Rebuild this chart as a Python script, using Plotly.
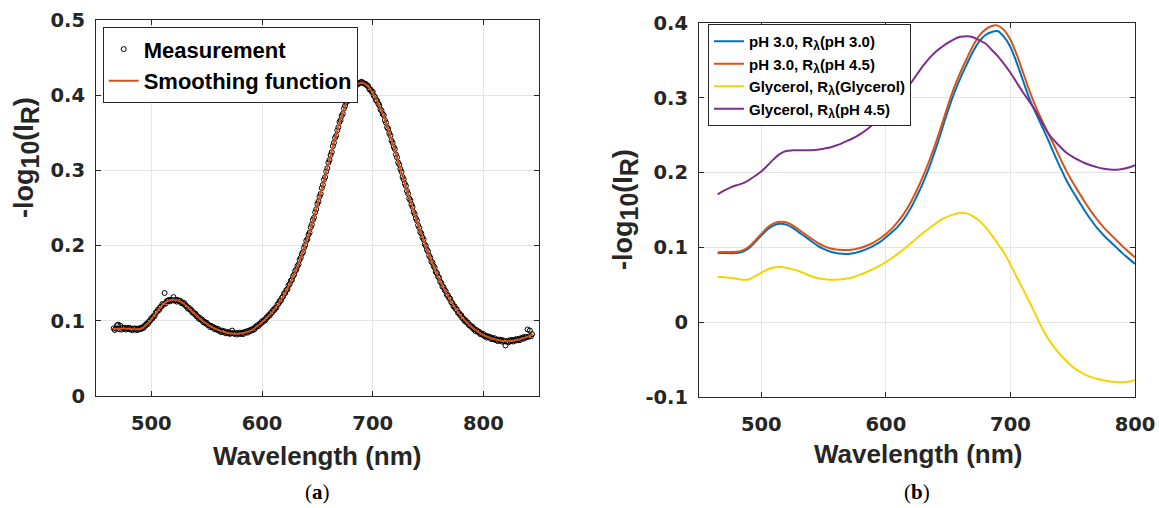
import plotly.graph_objects as go

# ---------------- data: panel (a) ----------------
meas_wl = list(range(466, 845))
meas_val = [
    0.0899, 0.0878, 0.0898, 0.0940, 0.0948, 0.0888, 0.0935, 0.0882, 0.0906, 0.0896,
    0.0907, 0.0884, 0.0901, 0.0890, 0.0907, 0.0884, 0.0894, 0.0875, 0.0898, 0.0886,
    0.0898, 0.0876, 0.0895, 0.0885, 0.0904, 0.0892, 0.0913, 0.0905, 0.0939, 0.0938,
    0.0966, 0.0960, 0.0994, 0.1000, 0.1034, 0.1032, 0.1063, 0.1065, 0.1109, 0.1118,
    0.1148, 0.1144, 0.1180, 0.1188, 0.1224, 0.1213, 0.1370, 0.1228, 0.1263, 0.1263,
    0.1278, 0.1259, 0.1280, 0.1273, 0.1315, 0.1269, 0.1277, 0.1256, 0.1277, 0.1263,
    0.1266, 0.1235, 0.1244, 0.1225, 0.1234, 0.1198, 0.1195, 0.1163, 0.1173, 0.1148,
    0.1146, 0.1110, 0.1114, 0.1090, 0.1094, 0.1059, 0.1057, 0.1026, 0.1037, 0.1013,
    0.1014, 0.0981, 0.0988, 0.0967, 0.0974, 0.0943, 0.0945, 0.0918, 0.0933, 0.0913,
    0.0918, 0.0889, 0.0900, 0.0883, 0.0894, 0.0867, 0.0873, 0.0850, 0.0869, 0.0853,
    0.0861, 0.0835, 0.0849, 0.0835, 0.0849, 0.0826, 0.0835, 0.0870, 0.0838, 0.0826,
    0.0838, 0.0817, 0.0835, 0.0826, 0.0844, 0.0825, 0.0839, 0.0824, 0.0851, 0.0843,
    0.0860, 0.0843, 0.0866, 0.0861, 0.0884, 0.0872, 0.0893, 0.0885, 0.0919, 0.0918,
    0.0942, 0.0932, 0.0962, 0.0964, 0.0994, 0.0986, 0.1011, 0.1007, 0.1045, 0.1048,
    0.1076, 0.1070, 0.1104, 0.1110, 0.1144, 0.1142, 0.1173, 0.1175, 0.1219, 0.1228,
    0.1264, 0.1266, 0.1308, 0.1322, 0.1364, 0.1370, 0.1409, 0.1419, 0.1471, 0.1488,
    0.1532, 0.1542, 0.1592, 0.1614, 0.1664, 0.1680, 0.1729, 0.1749, 0.1811, 0.1838,
    0.1892, 0.1912, 0.1972, 0.2004, 0.2064, 0.2088, 0.2145, 0.2173, 0.2243, 0.2278,
    0.2342, 0.2372, 0.2442, 0.2484, 0.2554, 0.2586, 0.2651, 0.2687, 0.2765, 0.2808,
    0.2876, 0.2910, 0.2984, 0.3030, 0.3104, 0.3138, 0.3205, 0.3243, 0.3323, 0.3368,
    0.3432, 0.3462, 0.3532, 0.3574, 0.3644, 0.3668, 0.3725, 0.3753, 0.3823, 0.3858,
    0.3904, 0.3916, 0.3968, 0.3992, 0.4044, 0.4042, 0.4073, 0.4075, 0.4119, 0.4128,
    0.4147, 0.4152, 0.4160, 0.4170, 0.4179, 0.4166, 0.4160, 0.4150, 0.4146, 0.4128,
    0.4120, 0.4078, 0.4076, 0.4046, 0.4044, 0.3994, 0.3977, 0.3931, 0.3927, 0.3888,
    0.3866, 0.3810, 0.3794, 0.3750, 0.3734, 0.3668, 0.3635, 0.3573, 0.3553, 0.3498,
    0.3464, 0.3396, 0.3368, 0.3312, 0.3284, 0.3212, 0.3173, 0.3105, 0.3079, 0.3018,
    0.2982, 0.2912, 0.2882, 0.2824, 0.2794, 0.2726, 0.2691, 0.2627, 0.2605, 0.2548,
    0.2514, 0.2446, 0.2418, 0.2362, 0.2334, 0.2270, 0.2239, 0.2179, 0.2161, 0.2108,
    0.2080, 0.2018, 0.1996, 0.1946, 0.1924, 0.1866, 0.1841, 0.1787, 0.1775, 0.1728,
    0.1706, 0.1650, 0.1634, 0.1590, 0.1574, 0.1522, 0.1503, 0.1455, 0.1449, 0.1408,
    0.1394, 0.1346, 0.1338, 0.1302, 0.1294, 0.1248, 0.1235, 0.1193, 0.1193, 0.1158,
    0.1150, 0.1108, 0.1106, 0.1076, 0.1074, 0.1036, 0.1031, 0.0997, 0.1005, 0.0978,
    0.0976, 0.0940, 0.0944, 0.0920, 0.0924, 0.0891, 0.0891, 0.0862, 0.0875, 0.0853,
    0.0856, 0.0825, 0.0834, 0.0815, 0.0824, 0.0796, 0.0801, 0.0777, 0.0795, 0.0778,
    0.0785, 0.0758, 0.0771, 0.0756, 0.0769, 0.0744, 0.0751, 0.0730, 0.0750, 0.0736,
    0.0746, 0.0723, 0.0739, 0.0728, 0.0672, 0.0722, 0.0734, 0.0716, 0.0741, 0.0730,
    0.0745, 0.0725, 0.0746, 0.0738, 0.0759, 0.0741, 0.0756, 0.0742, 0.0770, 0.0763,
    0.0780, 0.0763, 0.0786, 0.0781, 0.0885, 0.0788, 0.0870, 0.0793, 0.0823,
]

smooth_wl = list(range(465, 850, 5))
smooth_val = [
    0.0887, 0.0895, 0.0898, 0.0893, 0.0888, 0.0890, 0.0940, 0.1020, 0.1120, 0.1210,
    0.1265, 0.1280, 0.1265, 0.1220, 0.1150, 0.1080, 0.1015, 0.0960, 0.0915, 0.0880,
    0.0855, 0.0835, 0.0828, 0.0830, 0.0845, 0.0870, 0.0920, 0.0980, 0.1050, 0.1130,
    0.1230, 0.1350, 0.1490, 0.1650, 0.1840, 0.2050, 0.2280, 0.2540, 0.2810, 0.3090,
    0.3370, 0.3630, 0.3860, 0.4030, 0.4130, 0.4165, 0.4130, 0.4030, 0.3890, 0.3720,
    0.3500, 0.3270, 0.3020, 0.2780, 0.2550, 0.2320, 0.2110, 0.1910, 0.1730, 0.1560,
    0.1410, 0.1280, 0.1160, 0.1060, 0.0980, 0.0910, 0.0855, 0.0810, 0.0780, 0.0755,
    0.0738, 0.0730, 0.0732, 0.0745, 0.0765, 0.0790, 0.0820,
]

# ---------------- data: panel (b) ----------------
wl_b = list(range(465, 805, 5))
ph30_r30 = [
    0.0924, 0.0924, 0.0923, 0.0925, 0.0940, 0.0990, 0.1070, 0.1160, 0.1240, 0.1295,
    0.1315, 0.1305, 0.1265, 0.1205, 0.1145, 0.1085, 0.1025, 0.0980, 0.0945, 0.0925,
    0.0915, 0.0913, 0.0925, 0.0948, 0.0980, 0.1020, 0.1070, 0.1135, 0.1205, 0.1285,
    0.1390, 0.1525, 0.1690, 0.1870, 0.2080, 0.2315, 0.2575, 0.2835, 0.3070, 0.3270,
    0.3450, 0.3620, 0.3755, 0.3840, 0.3880, 0.3890, 0.3810, 0.3680, 0.3470, 0.3235,
    0.3000, 0.2810, 0.2630, 0.2447, 0.2255, 0.2070, 0.1895, 0.1750, 0.1615, 0.1480,
    0.1360, 0.1250, 0.1160, 0.1080, 0.1000, 0.0920, 0.0850, 0.0780,
]
ph30_r45 = [
    0.0935, 0.0938, 0.0940, 0.0942, 0.0958, 0.1008, 0.1090, 0.1180, 0.1265, 0.1320,
    0.1342, 0.1335, 0.1295, 0.1240, 0.1180, 0.1120, 0.1065, 0.1020, 0.0988, 0.0972,
    0.0965, 0.0965, 0.0975, 0.0995, 0.1025, 0.1065, 0.1115, 0.1180, 0.1255, 0.1350,
    0.1465, 0.1605, 0.1770, 0.1955, 0.2165, 0.2395, 0.2645, 0.2905, 0.3145, 0.3345,
    0.3525, 0.3695, 0.3830, 0.3915, 0.3960, 0.3965, 0.3905, 0.3775, 0.3580, 0.3345,
    0.3105, 0.2895, 0.2710, 0.2535, 0.2365, 0.2190, 0.2020, 0.1870, 0.1735, 0.1600,
    0.1475, 0.1365, 0.1265, 0.1180, 0.1100, 0.1015, 0.0940, 0.0866,
]
gly_rgly = [
    0.0604, 0.0602, 0.0595, 0.0580, 0.0568, 0.0570, 0.0615, 0.0660, 0.0705, 0.0732,
    0.0738, 0.0728, 0.0708, 0.0685, 0.0650, 0.0615, 0.0590, 0.0577, 0.0569, 0.0568,
    0.0575, 0.0588, 0.0608, 0.0640, 0.0675, 0.0712, 0.0755, 0.0804, 0.0858, 0.0920,
    0.0985, 0.1055, 0.1125, 0.1195, 0.1260, 0.1320, 0.1375, 0.1415, 0.1445, 0.1460,
    0.1455, 0.1415, 0.1355, 0.1270, 0.1165, 0.1045, 0.0925, 0.0770, 0.0605, 0.0445,
    0.0280, 0.0110, -0.0065, -0.0215, -0.0330, -0.0435, -0.0520, -0.0597, -0.0655, -0.0700,
    -0.0735, -0.0760, -0.0778, -0.0792, -0.0800, -0.0802, -0.0795, -0.0775,
]
gly_r45 = [
    0.1710, 0.1760, 0.1800, 0.1830, 0.1855, 0.1900, 0.1955, 0.2015, 0.2095, 0.2180,
    0.2250, 0.2288, 0.2298, 0.2300, 0.2298, 0.2298, 0.2305, 0.2320, 0.2335, 0.2362,
    0.2395, 0.2432, 0.2470, 0.2520, 0.2580, 0.2650, 0.2730, 0.2815, 0.2905, 0.2995,
    0.3090, 0.3195, 0.3315, 0.3430, 0.3530, 0.3615, 0.3680, 0.3738, 0.3785, 0.3815,
    0.3823, 0.3810, 0.3770, 0.3725, 0.3640, 0.3555, 0.3450, 0.3335, 0.3205, 0.3075,
    0.2955, 0.2830, 0.2680, 0.2536, 0.2430, 0.2345, 0.2265, 0.2210, 0.2165, 0.2125,
    0.2095, 0.2070, 0.2052, 0.2040, 0.2038, 0.2048, 0.2068, 0.2100,
]

LAM = "R<sub><span style='font-size:12px'>λ</span></sub>"
series_b = [
    ("pH 3.0, " + LAM + "(pH 3.0)", ph30_r30, "#0072BD"),
    ("pH 3.0, " + LAM + "(pH 4.5)", ph30_r45, "#D95319"),
    ("Glycerol, " + LAM + "(Glycerol)", gly_rgly, "#F7D300"),
    ("Glycerol, " + LAM + "(pH 4.5)", gly_r45, "#7E2F8E"),
]

x_ticks = [500, 600, 700, 800]
ya_ticks = [0, 0.1, 0.2, 0.3, 0.4, 0.5]
ya_text = ["0", "0.1", "0.2", "0.3", "0.4", "0.5"]
yb_ticks = [-0.1, 0, 0.1, 0.2, 0.3, 0.4]
yb_text = ["-0.1", "0", "0.1", "0.2", "0.3", "0.4"]

W, H = 1159, 508
FONT = "Liberation Sans"
TICKFONT = "DejaVu Sans"
INK = "#262626"

fig = go.Figure()

fig.add_trace(go.Scatter(
    x=meas_wl, y=meas_val, mode="markers", name="Measurement",
    marker=dict(symbol="circle-open", size=5, color="black", line=dict(width=1, color="black")),
    xaxis="x", yaxis="y", legend="legend",
))
fig.add_trace(go.Scatter(
    x=smooth_wl, y=smooth_val, mode="lines", name="Smoothing function",
    line=dict(color="#D95319", width=2, shape="spline"),
    xaxis="x", yaxis="y", legend="legend",
))

for name, vals, col in series_b:
    fig.add_trace(go.Scatter(
        x=wl_b, y=vals, mode="lines", name=name,
        line=dict(color=col, width=2, shape="spline"),
        xaxis="x2", yaxis="y2", legend="legend2",
    ))

def px(x):
    return x / W

def py(y):
    return 1 - y / H

axis_common = dict(
    showline=True, linecolor=INK, linewidth=1, mirror="ticks",
    ticks="inside", ticklen=5, tickcolor=INK, tickwidth=1,
    showgrid=True, gridcolor="#e4e4e4", gridwidth=1, zeroline=False,
    automargin=False,
    tickfont=dict(family=TICKFONT, size=19.5, color=INK, weight="bold"),
)

fig.update_layout(
    width=W, height=H, autosize=False,
    margin=dict(l=0, r=0, t=0, b=0, autoexpand=False),
    paper_bgcolor="white", plot_bgcolor="white",
    xaxis=dict(domain=[px(96), px(538.7)], range=[450, 850], tickvals=x_ticks,
               anchor="y", ticklabelstandoff=10, **axis_common),
    yaxis=dict(domain=[py(396), py(20)], range=[0, 0.5], tickvals=ya_ticks, ticktext=ya_text,
               anchor="x", ticklabelstandoff=6, **axis_common),
    xaxis2=dict(domain=[px(699), px(1135)], range=[450, 800], tickvals=x_ticks,
                anchor="y2", ticklabelstandoff=10, **axis_common),
    yaxis2=dict(domain=[py(397), py(23)], range=[-0.1, 0.4], tickvals=yb_ticks, ticktext=yb_text,
                anchor="x2", ticklabelstandoff=6, **axis_common),
    legend=dict(x=px(102.7), y=py(27.3), xanchor="left", yanchor="top",
                bgcolor="white", bordercolor=INK, borderwidth=1,
                font=dict(family=FONT, size=22, color="black", weight="bold"),
                itemwidth=30, tracegroupgap=0),
    legend2=dict(x=px(708), y=py(24), xanchor="left", yanchor="top",
                 bgcolor="white", bordercolor=INK, borderwidth=1,
                 font=dict(family=FONT, size=15, color="black", weight="bold"),
                 itemwidth=30, tracegroupgap=0),
    showlegend=True,
)

title_font = dict(family=FONT, size=26, color=INK)
ann = []
ann.append(dict(text="<b>Wavelength (nm)</b>", x=px(317.3), y=py(456), xref="paper", yref="paper",
                xanchor="center", yanchor="middle", showarrow=False, font=title_font))
ann.append(dict(text="<b>Wavelength (nm)</b>", x=px(918), y=py(454), xref="paper", yref="paper",
                xanchor="center", yanchor="middle", showarrow=False, font=title_font))
ytitle = ("<b>-log<sub><span style='font-size:25px'>10</span></sub>"
          "(I<sub><span style='font-size:25px'>R</span></sub>)</b>")
ytitle_font = dict(family=FONT, size=27, color=INK)
ann.append(dict(text=ytitle, x=px(26), y=py(158), xref="paper", yref="paper", textangle=-90,
                xanchor="center", yanchor="middle", showarrow=False, font=ytitle_font))
ann.append(dict(text=ytitle, x=px(626), y=py(210), xref="paper", yref="paper", textangle=-90,
                xanchor="center", yanchor="middle", showarrow=False, font=ytitle_font))
cap_font = dict(family="Liberation Serif", size=21, color="black")
ann.append(dict(text="(<b>a</b>)", x=px(317.3), y=py(492), xref="paper", yref="paper",
                xanchor="center", yanchor="middle", showarrow=False, font=cap_font))
ann.append(dict(text="(<b>b</b>)", x=px(917), y=py(492), xref="paper", yref="paper",
                xanchor="center", yanchor="middle", showarrow=False, font=cap_font))
fig.update_layout(annotations=ann)

fig.write_html(
    "out.html",
    config={"displayModeBar": False},
    post_script="document.body.style.margin='0';document.body.style.padding='0';",
)
